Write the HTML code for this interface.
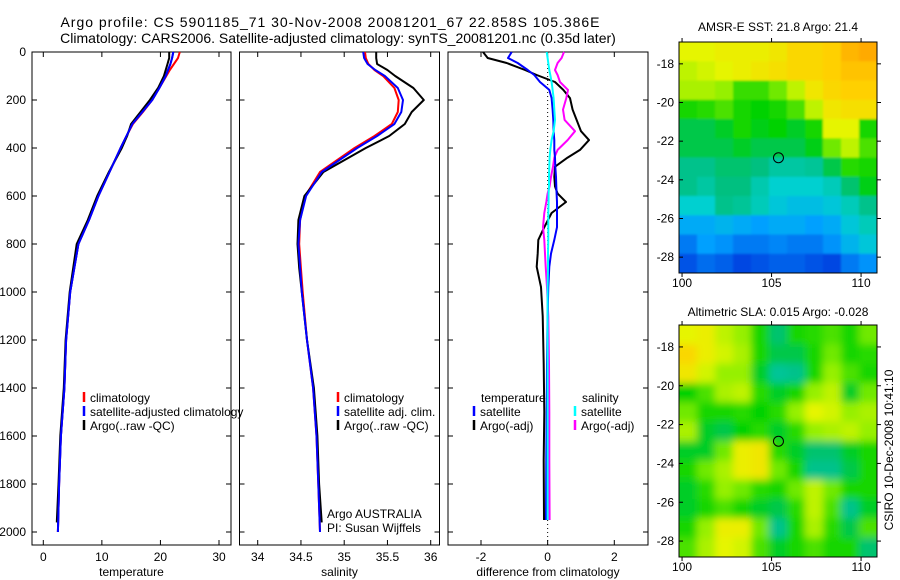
<!DOCTYPE html>
<html><head><meta charset="utf-8"><style>
html,body{margin:0;padding:0;background:#fff;}
svg{display:block;font-family:"Liberation Sans",sans-serif;}
</style></head><body>
<svg id="fig" width="900" height="580" viewBox="0 0 900 580">
<defs>
<filter id="blurSla" x="-5%" y="-5%" width="110%" height="110%"><feGaussianBlur stdDeviation="4"/></filter>
<filter id="blurSst"><feGaussianBlur stdDeviation="1"/></filter>
<clipPath id="clipTop"><rect x="679" y="42" width="198" height="231"/></clipPath>
<clipPath id="clipBot"><rect x="679" y="325" width="198" height="232"/></clipPath>
</defs>
<text x="330" y="27" font-size="14" text-anchor="middle" textLength="539" lengthAdjust="spacing">Argo profile: CS 5901185_71 30-Nov-2008 20081201_67 22.858S 105.386E</text>
<text x="338" y="43" font-size="14" text-anchor="middle">Climatology: CARS2006. Satellite-adjusted climatology: synTS_20081201.nc (0.35d later)</text>
<g id="g"></g>
</svg>
<script>
// ---------- profile data ----------
const depthsC = [0,25,50,75,100,150,200,250,300,350,400,500,600,700,800,900,1000,1200,1400,1600,1800,2000];
const depthsA = [0,25,50,75,100,150,200,250,300,350,400,500,600,700,800,900,1000,1200,1400,1600,1800,1960];
const tempClim = [23.3,23.0,22.3,21.6,21.0,19.8,18.6,17.0,15.3,14.2,13.2,11.3,9.4,7.8,6.0,5.3,4.6,3.9,3.6,3.0,2.7,2.5];
const tempSat  = [22.2,22.0,21.7,21.3,20.9,19.8,18.6,16.9,15.2,14.2,13.2,11.3,9.4,7.8,6.0,5.3,4.6,3.9,3.6,3.0,2.7,2.5];
const tempArgo = [21.5,21.5,21.2,20.9,20.6,19.6,18.2,16.6,15.0,14.3,13.4,11.2,9.2,7.6,5.7,5.1,4.5,3.8,3.5,2.9,2.6,2.3];
const salClim = [35.24,35.25,35.28,35.35,35.45,35.58,35.63,35.62,35.55,35.35,35.12,34.72,34.55,34.49,34.48,34.50,34.52,34.57,34.64,34.68,34.70,34.72];
const salSat  = [35.22,35.23,35.27,35.36,35.47,35.62,35.68,35.66,35.58,35.38,35.15,34.74,34.56,34.49,34.47,34.49,34.51,34.57,34.64,34.68,34.70,34.72];
const salArgo = [35.37,35.37,35.38,35.50,35.59,35.80,35.92,35.78,35.70,35.52,35.25,34.76,34.54,34.47,34.46,34.48,34.51,34.57,34.65,34.69,34.71,34.74];
const dDepth = [0,25,46,75,96,125,158,192,240,283,330,367,408,440,478,520,560,590,625,671,730,783,840,895,979,1100,1300,1500,1700,1950];
const tDiffSat  = [-1.08,-1.19,-0.9,-0.6,-0.4,-0.23,0.05,0.12,0.15,0.17,0.18,0.2,0.2,0.22,0.23,0.25,0.26,0.27,0.28,0.28,0.28,0.2,0.1,0.05,0.02,0.0,-0.02,-0.03,-0.04,-0.05];
const tDiffArgo = [-1.94,-1.8,-1.23,-0.68,-0.33,0.22,0.47,0.67,0.75,0.87,1.0,1.24,0.97,0.6,0.22,0.2,0.22,0.3,0.55,0.12,-0.1,-0.28,-0.3,-0.33,-0.2,-0.15,-0.12,-0.1,-0.12,-0.11];
const sDiffSat  = [-0.03,0.0,0.02,0.05,0.08,0.12,0.15,0.18,0.2,0.22,0.18,0.12,0.08,0.06,0.05,0.04,0.04,0.03,0.03,0.02,0.02,0.02,0.01,0.01,0.0,0.0,0.0,0.0,0.0,0.0];
const sDiffArgo = [0.49,0.42,0.3,0.22,0.3,0.37,0.61,0.56,0.46,0.51,0.82,0.6,0.3,0.2,0.16,0.1,0.06,0.0,-0.04,-0.1,-0.14,-0.1,-0.08,-0.06,-0.02,0.02,0.04,0.05,0.05,0.06];
const depthTicks = [0,200,400,600,800,1000,1200,1400,1600,1800,2000];
const tempTicks = [0,10,20,30];
const salTicks = [34,34.5,35,35.5,36];
const diffTicks = [-2,0,2];
// ---------- map data (rows north->south, cols west->east) ----------
const sstGrid = [
[0.70,0.70,0.72,0.72,0.72,0.74,0.78,0.78,0.80,0.84,0.86],
[0.66,0.68,0.70,0.72,0.74,0.76,0.78,0.78,0.80,0.82,0.82],
[0.64,0.64,0.62,0.57,0.57,0.60,0.66,0.74,0.78,0.80,0.80],
[0.55,0.56,0.58,0.55,0.54,0.55,0.58,0.66,0.74,0.76,0.76],
[0.50,0.50,0.52,0.55,0.53,0.54,0.52,0.55,0.70,0.70,0.55],
[0.50,0.50,0.50,0.52,0.50,0.50,0.50,0.53,0.60,0.66,0.58],
[0.46,0.46,0.48,0.48,0.47,0.44,0.44,0.45,0.50,0.56,0.55],
[0.46,0.44,0.47,0.47,0.43,0.40,0.40,0.40,0.42,0.48,0.53],
[0.40,0.40,0.46,0.45,0.42,0.38,0.36,0.36,0.38,0.42,0.46],
[0.32,0.32,0.34,0.32,0.30,0.32,0.32,0.30,0.32,0.38,0.42],
[0.24,0.30,0.28,0.24,0.24,0.26,0.24,0.24,0.28,0.34,0.38],
[0.18,0.22,0.20,0.16,0.18,0.20,0.20,0.18,0.16,0.24,0.28]];
const slaGrid = [
[0.70,0.72,0.66,0.62,0.55,0.48,0.55,0.56,0.58,0.55,0.60],
[0.78,0.72,0.68,0.64,0.55,0.50,0.50,0.55,0.60,0.55,0.56],
[0.74,0.68,0.62,0.62,0.52,0.45,0.46,0.55,0.62,0.58,0.55],
[0.54,0.58,0.64,0.66,0.56,0.52,0.55,0.62,0.66,0.52,0.60],
[0.60,0.55,0.55,0.56,0.54,0.56,0.62,0.70,0.68,0.62,0.64],
[0.64,0.52,0.50,0.54,0.56,0.52,0.56,0.62,0.64,0.66,0.62],
[0.52,0.52,0.60,0.72,0.74,0.56,0.52,0.48,0.48,0.52,0.55],
[0.55,0.60,0.64,0.72,0.74,0.60,0.55,0.46,0.46,0.50,0.55],
[0.52,0.56,0.62,0.60,0.56,0.55,0.60,0.66,0.60,0.55,0.55],
[0.52,0.55,0.58,0.55,0.52,0.50,0.56,0.66,0.58,0.46,0.52],
[0.55,0.62,0.72,0.72,0.60,0.46,0.55,0.64,0.56,0.50,0.58],
[0.58,0.64,0.70,0.68,0.58,0.52,0.55,0.58,0.55,0.55,0.48]];
const latTicks = [-18,-20,-22,-24,-26,-28];
const lonTicks = [100,105,110];
const argoLon = 105.386, argoLat = -22.858;

const NS="http://www.w3.org/2000/svg";
const G=document.getElementById('g');
function el(tag,attrs,parent){const e=document.createElementNS(NS,tag);for(const k in attrs)e.setAttribute(k,attrs[k]);(parent||G).appendChild(e);return e;}
function txt(x,y,s,size,anchor,parent){const t=el('text',{x:x,y:y,'font-size':size||12,'text-anchor':anchor||'start'},parent);t.textContent=s;return t;}

const yTop=52, yBot=545;
function yDepth(d){return yTop + d*0.24;}
function makeX(v0,x0,v1,x1){return v=>x0+(v-v0)*(x1-x0)/(v1-v0);}
const xT=makeX(0,43.3,30,219);
const xS=makeX(34,257.7,36,430.7);
const xD=makeX(-2,481,2,614.3);

function panel(name,L,R,xf,ticks,label,yLabels){
  const g=el('g',{});
  
  
  const fr=el('rect',{x:L,y:yTop,width:R-L,height:yBot-yTop,fill:'none',stroke:'#000','stroke-width':1},g);
  
  
  depthTicks.forEach(d=>{
    const y=yDepth(d);
    el('line',{x1:L,x2:L+5,y1:y,y2:y,stroke:'#000'},g);
    el('line',{x1:R,x2:R-5,y1:y,y2:y,stroke:'#000'},g);
    if(yLabels){const t=txt(L-6,y+4,String(d),12,'end',g);
      
      }
  });
  ticks.forEach(v=>{
    const x=xf(v);
    el('line',{x1:x,x2:x,y1:yTop,y2:yTop+5,stroke:'#000'},g);
    el('line',{x1:x,x2:x,y1:yBot,y2:yBot-5,stroke:'#000'},g);
    const t=txt(x,561,String(v),12,'middle',g);
    
    
  });
  const xl=txt((L+R)/2,576,label,12,'middle',g);
  
  
  return g;
}
function series(name,vals,depths,xf,color,w,parent){
  const pts=vals.map((v,i)=>xf(v).toFixed(1)+','+yDepth(depths[i]).toFixed(1)).join(' ');
  const p=el('polyline',{points:pts,fill:'none',stroke:color,'stroke-width':w||2,'stroke-linejoin':'round'},parent);
  
  
}
function legendEntry(x,y,color,label,parent){
  const g=el('g',{},parent);
  
  
  el('line',{x1:x,x2:x,y1:y-10,y2:y,stroke:color,'stroke-width':2.5},g);
  txt(x+6,y,label,12,'start',g);
}

const p1=panel('temperature-panel',32,231,xT,tempTicks,'temperature',true);
series('temp-climatology-line',tempClim,depthsC,xT,'#f00',2,p1);
series('temp-satellite-line',tempSat,depthsC,xT,'#00f',2,p1);
series('temp-argo-line',tempArgo,depthsA,xT,'#000',2,p1);
series('temp-satellite-line-top',tempSat,depthsC,xT,'#00f',2,p1);
legendEntry(84,402,'#f00','climatology',p1);
legendEntry(84,416,'#00f','satellite-adjusted climatology',p1);
legendEntry(84,430,'#000','Argo(..raw -QC)',p1);

const p2=panel('salinity-panel',239.5,439.5,xS,salTicks,'salinity',false);
series('sal-climatology-line',salClim,depthsC,xS,'#f00',2,p2);
series('sal-argo-line',salArgo,depthsA,xS,'#000',2,p2);
series('sal-satellite-line',salSat,depthsC,xS,'#00f',2,p2);
legendEntry(338,402,'#f00','climatology',p2);
legendEntry(338,416,'#00f','satellite adj. clim.',p2);
legendEntry(338,430,'#000','Argo(..raw -QC)',p2);
const a1=txt(327,518,'Argo AUSTRALIA',12,'start',p2);


const a2=txt(327,532,'PI: Susan Wijffels',12,'start',p2);



const p3=panel('difference-panel',448,648,xD,diffTicks,'difference from climatology',false);
const z=el('line',{x1:xD(0),x2:xD(0),y1:yTop,y2:yBot,stroke:'#000','stroke-dasharray':'1,3'},p3);


series('temp-argo-diff-line',tDiffArgo,dDepth,xD,'#000',2,p3);
series('sal-argo-diff-line',sDiffArgo,dDepth,xD,'#f0f',2,p3);
series('temp-satellite-diff-line',tDiffSat,dDepth,xD,'#00f',2,p3);
series('sal-satellite-diff-line',sDiffSat,dDepth,xD,'#0ff',2,p3);
const lt=txt(481,402,'temperature',12,'start',p3);


const ls=txt(582,402,'salinity',12,'start',p3);


legendEntry(474,416,'#00f','satellite',p3);
legendEntry(474,430,'#000','Argo(-adj)',p3);
legendEntry(575,416,'#0ff','satellite',p3);
legendEntry(575,430,'#f0f','Argo(-adj)',p3);

const stops=[[0,[0,16,144]],[0.15,[0,64,224]],[0.3,[0,160,255]],[0.4,[0,208,208]],[0.47,[0,192,128]],[0.54,[0,210,0]],[0.62,[150,240,0]],[0.7,[230,245,0]],[0.8,[255,208,0]],[0.9,[255,144,0]],[1,[255,64,0]]];
function cmap(v){
  for(let i=1;i<stops.length;i++){ if(v<=stops[i][0]){const a=stops[i-1],b=stops[i];const f=(v-a[0])/(b[0]-a[0]);
    const c=a[1].map((q,k)=>Math.round(q+(b[1][k]-q)*f));return 'rgb('+c.join(',')+')';}}
  return 'rgb(255,64,0)';
}
function map(name,grid,top,bot,clip,filter,title,titleY){
  const L=679,R=877,lonL=99.83,lonR=110.89;
  const latT=-16.87,latB=-28.82;
  const xl=lon=>L+(lon-lonL)*(R-L)/(lonR-lonL);
  const yl=lat=>top+(lat-latT)*(bot-top)/(latB-latT);
  const g=el('g',{});
  
  
  const cg=el('g',{'clip-path':'url(#'+clip+')'},g);
  const ig=el('g',{filter:'url(#'+filter+')'},cg);
  const nr=grid.length,nc=grid[0].length;
  const cw=(R-L)/nc,ch=(bot-top)/nr;
  grid.forEach((row,i)=>row.forEach((v,j)=>{
    const r=el('rect',{x:(L+j*cw-(j==0?10:0)).toFixed(1),y:(top+i*ch-(i==0?10:0)).toFixed(1),width:(cw+1+(j==0||j==nc-1?10:0)).toFixed(1),height:(ch+1+(i==0||i==nr-1?10:0)).toFixed(1),fill:cmap(v)},ig);
    
    
  }));
  el('rect',{x:L,y:top,width:R-L,height:bot-top,fill:'none',stroke:'#000'},g);
  latTicks.forEach(lat=>{const y=yl(lat);
    el('line',{x1:L,x2:L+4,y1:y,y2:y,stroke:'#000'},g);
    el('line',{x1:R,x2:R+4,y1:y,y2:y,stroke:'#000'},g);
    const t=txt(L-5,y+4,String(lat),12,'end',g);
    
    });
  lonTicks.forEach(lon=>{const x=xl(lon);
    el('line',{x1:x,x2:x,y1:bot,y2:bot+4,stroke:'#000'},g);
    el('line',{x1:x,x2:x,y1:top,y2:top-4,stroke:'#000'},g);
    const t=txt(x,bot+14,String(lon),12,'middle',g);
    
    });
  const c=el('circle',{cx:xl(argoLon),cy:yl(argoLat),r:5,fill:'none',stroke:'#000','stroke-width':1},g);
  
  
  const tt=txt((L+R)/2,titleY,title,12,'middle',g);
  
  
}
map('sst-map',sstGrid,42,273,'clipTop','blurSst','AMSR-E SST: 21.8 Argo: 21.4',31);
map('sla-map',slaGrid,325,557,'clipBot','blurSla','Altimetric SLA: 0.015 Argo: -0.028',316);
const cs=txt(0,0,'CSIRO 10-Dec-2008 10:41:10',12,'middle');
cs.setAttribute('transform','translate(893,450) rotate(-90)');


</script>
</body></html>
